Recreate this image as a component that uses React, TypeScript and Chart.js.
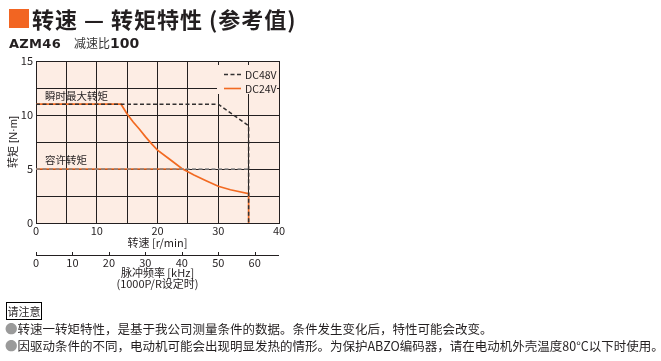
import React, { useEffect, useRef } from 'react';
import { Chart, registerables } from 'chart.js';

Chart.register(...registerables);

// ---- data ----
const speedTickLabels = [0, 10, 20, 30, 40];
const torqueTickLabels = [0, 5, 10, 15];
const pulseTickLabels = [0, 10, 20, 30, 40, 50, 60];

const dc48Speed = [0, 30, 35, 35];
const dc48Torque = [11, 11, 9, 0];
const dc48RatedSpeed = [0, 35];
const dc48RatedTorque = [5, 5];

const dc24Speed = [0, 14, 15, 16, 17, 18, 19, 20, 22, 24, 26, 28, 30, 32, 35, 35];
const dc24Torque = [11, 11, 10.1, 9.35, 8.7, 8.0, 7.35, 6.75, 5.9, 5.05, 4.45, 3.92, 3.4, 3.08, 2.72, 0];
const dc24RatedSpeed = [0, 24.3];
const dc24RatedTorque = [5, 5];

const speedMax = 40;
const torqueMax = 15;
const pulseMax = 66.67; // kHz at 40 r/min (ratio 100, 1000 P/R)

const seriesNames = ['DC48V', 'DC24V'];
const annotationTexts = ['瞬时最大转矩', '容许转矩'];
const annotationTorque = [11, 5];

const ORANGE = '#f26a21';
const DARK = '#333131';
const GREY = '#8a8a8a';
const INK = '#231f20';
const PEACH = '#fdede4';
const NUM_FONT = "'Liberation Sans Narrow', 'Arial Narrow', 'Noto Sans CJK SC', sans-serif";
const TITLE_FONT = "'Liberation Sans Narrow', 'Liberation Sans', 'Noto Sans CJK SC', sans-serif";

const pts = (xs: number[], ys: number[]) => xs.map((x, i) => ({ x, y: ys[i] }));

const decorPlugin = {
  id: 'decor',
  beforeDraw(chart: any) {
    const { ctx, chartArea: ca } = chart;
    ctx.save();
    ctx.fillStyle = PEACH;
    ctx.fillRect(ca.left, ca.top, ca.right - ca.left, ca.bottom - ca.top);
    ctx.restore();
  },
  beforeDatasetsDraw(chart: any) {
    const { ctx, chartArea: ca, scales } = chart;
    const xs = scales.x;
    const ys = scales.y;
    ctx.save();
    // legend box
    const bx0 = ca.right - 62;
    const by0 = ca.top + 4;
    ctx.fillStyle = PEACH;
    ctx.fillRect(bx0, by0, 60, 29);
    const rows = [by0 + 9, by0 + 23];
    ctx.font = `10.5px ${NUM_FONT}`;
    ctx.textBaseline = 'middle';
    ctx.textAlign = 'left';
    ctx.fillStyle = INK;
    rows.forEach((ry, i) => {
      ctx.beginPath();
      ctx.lineWidth = i === 0 ? 1.4 : 1.6;
      ctx.strokeStyle = i === 0 ? DARK : ORANGE;
      ctx.setLineDash(i === 0 ? [4, 2.5] : []);
      ctx.moveTo(bx0 + 7, ry + 0.5);
      ctx.lineTo(bx0 + 24, ry + 0.5);
      ctx.stroke();
      ctx.setLineDash([]);
      ctx.fillText(seriesNames[i], bx0 + 28, ry + 1);
    });
    // annotation texts
    ctx.font = "10.5px 'Noto Sans CJK SC', sans-serif";
    ctx.fillStyle = INK;
    annotationTexts.forEach((t, i) => {
      ctx.fillText(t, xs.getPixelForValue(1.5), ys.getPixelForValue(annotationTorque[i]) - 8.5);
    });
    // secondary axis line with upward ticks
    const x2 = scales.x2;
    const ly = Math.round(x2.top + 2) + 0.5;
    ctx.strokeStyle = INK;
    ctx.lineWidth = 1;
    ctx.beginPath();
    ctx.moveTo(x2.left, ly);
    ctx.lineTo(x2.right, ly);
    pulseTickLabels.forEach((v) => {
      const px = Math.round(x2.getPixelForValue(v)) + 0.5;
      ctx.moveTo(px, ly);
      ctx.lineTo(px, ly - 3.5);
    });
    ctx.stroke();
    ctx.restore();
  },
};

export default function App() {
  const ref = useRef<HTMLCanvasElement>(null);

  useEffect(() => {
    if (!ref.current) return;
    const tickFont = { family: NUM_FONT, size: 11 };
    const titleFont = { family: NUM_FONT, size: 11 };
    const chart = new Chart(ref.current, {
      type: 'line',
      data: {
        datasets: [
          {
            label: 'DC48V',
            data: pts(dc48Speed, dc48Torque),
            borderColor: DARK,
            borderWidth: 1.5,
            borderDash: [4, 2.5],
            pointRadius: 0,
            fill: false,
          },
          {
            label: 'DC48V rated',
            data: pts(dc48RatedSpeed, dc48RatedTorque),
            borderColor: GREY,
            borderWidth: 1.4,
            borderDash: [4, 2.5],
            pointRadius: 0,
            fill: false,
          },
          {
            label: 'DC24V',
            data: pts(dc24Speed, dc24Torque),
            borderColor: ORANGE,
            borderWidth: 1.7,
            pointRadius: 0,
            fill: false,
          },
          {
            label: 'DC24V rated',
            data: pts(dc24RatedSpeed, dc24RatedTorque),
            borderColor: ORANGE,
            borderWidth: 1.7,
            pointRadius: 0,
            fill: false,
          },
        ],
      },
      options: {
        responsive: false,
        animation: false,
        events: [],
        layout: { padding: { left: 0, top: 61, right: 382, bottom: 68 } },
        plugins: { legend: { display: false }, tooltip: { enabled: false }, title: { display: false } },
        scales: {
          x: {
            type: 'linear',
            position: 'bottom',
            min: 0,
            max: speedMax,
            afterFit: (s: any) => { s.height = 30; },
            ticks: {
              stepSize: 5,
              autoSkip: false,
              maxRotation: 0,
              padding: 1,
              color: INK,
              font: tickFont,
              callback: (v: any) => (speedTickLabels.includes(Number(v)) ? String(v) : ''),
            },
            grid: { color: INK, lineWidth: 1, drawTicks: false },
            border: { color: INK, width: 1 },
            title: { display: true, text: '转速 [r/min]', color: INK, font: titleFont, padding: { top: 0, bottom: 4 } },
          },
          x2: {
            type: 'linear',
            position: 'bottom',
            min: 0,
            max: pulseMax,
            afterFit: (s: any) => { s.height = 40; },
            ticks: {
              stepSize: 10,
              includeBounds: false,
              autoSkip: false,
              maxRotation: 0,
              padding: 3,
              color: INK,
              font: tickFont,
              callback: (v: any) => (pulseTickLabels.includes(Number(v)) ? String(v) : ''),
            },
            grid: { display: false, drawTicks: false, drawOnChartArea: false },
            border: { display: false },
            title: {
              display: true,
              text: ['脉冲频率 [kHz]', '(1000P/R设定时)'],
              color: INK,
              font: { family: NUM_FONT, size: 11, lineHeight: 1.0 },
              padding: { top: 0, bottom: 4 },
            },
          },
          y: {
            type: 'linear',
            min: 0,
            max: torqueMax,
            afterFit: (s: any) => { s.width = 36; },
            ticks: {
              stepSize: 2.5,
              autoSkip: false,
              padding: 3,
              color: INK,
              font: tickFont,
              callback: (v: any) => (torqueTickLabels.includes(Number(v)) ? String(v) : ''),
            },
            grid: { color: INK, lineWidth: 1, drawTicks: false },
            border: { color: INK, width: 1 },
            title: { display: true, text: '转矩 [N·m]', color: INK, font: { family: TITLE_FONT, size: 11 }, padding: { top: 7, bottom: 0 } },
          },
        },
      },
      plugins: [decorPlugin],
    } as any);
    return () => chart.destroy();
  }, []);

  const cjk = "'Noto Sans CJK SC', sans-serif";
  return (
    <div style={{ position: 'absolute', left: 0, top: 0, width: 661, height: 361, background: '#fff', overflow: 'hidden', color: INK }}>
      <canvas ref={ref} width={661} height={361} style={{ position: 'absolute', left: 0, top: 0, width: 661, height: 361 }} />
      <div style={{ position: 'absolute', left: 9, top: 9, width: 20, height: 19, background: '#f26522' }} />
      <div style={{ position: 'absolute', left: 32, top: 3, fontFamily: cjk, fontSize: 22, fontWeight: 700, lineHeight: '30px', letterSpacing: '1px', whiteSpace: 'nowrap' }}>
        转速 — 转矩特性 (参考值)
      </div>
      <div style={{ position: 'absolute', left: 9, top: 35, lineHeight: '16px', whiteSpace: 'nowrap' }}>
        <span style={{ fontFamily: "'DejaVu Sans', sans-serif", fontWeight: 700, fontSize: 13, letterSpacing: '0.3px' }}>AZM46</span>
        <span style={{ fontFamily: cjk, fontSize: 12, color: '#333', marginLeft: 13 }}>减速比</span>
        <span style={{ fontFamily: "'DejaVu Sans', sans-serif", fontWeight: 700, fontSize: 14 }}>100</span>
      </div>
      <div style={{ position: 'absolute', left: 6, top: 302, width: 36, height: 18, border: '1px solid #000', boxSizing: 'border-box', fontFamily: cjk, fontSize: 11, lineHeight: '16px', textAlign: 'center', whiteSpace: 'nowrap' }}>
        请注意
      </div>
      <div style={{ position: 'absolute', left: 5, top: 320, fontFamily: cjk, fontSize: 12.5, lineHeight: '17px', whiteSpace: 'nowrap' }}>
        <div><span style={{ color: '#9a9a9a' }}>●</span>转速一转矩特性，是基于我公司测量条件的数据。条件发生变化后，特性可能会改变。</div>
        <div><span style={{ color: '#9a9a9a' }}>●</span>因驱动条件的不同，电动机可能会出现明显发热的情形。为保护ABZO编码器，请在电动机外壳温度80°C以下时使用。</div>
      </div>
    </div>
  );
}
